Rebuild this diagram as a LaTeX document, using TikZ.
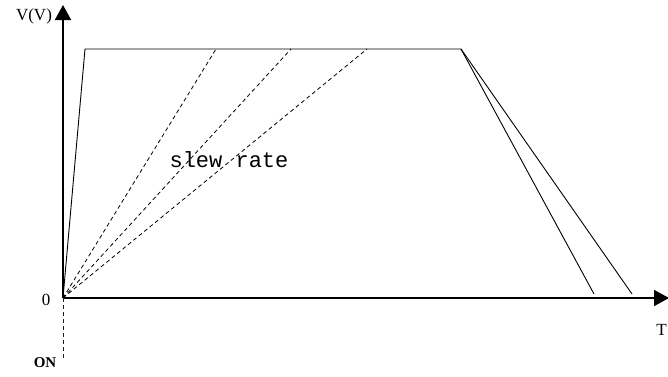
\documentclass[tikz,border=0pt]{standalone}
\usepackage{fontspec}
\setmainfont{Liberation Serif}
\newfontfamily\slewfont{Liberation Mono}
\usetikzlibrary{arrows.meta}
\begin{document}
\begin{tikzpicture}[x=1pt,y=-1pt,
  axis/.style={line width=1.8pt,-{Triangle[length=15pt,width=16pt]}},
  curve/.style={line width=0.9pt},
  slew/.style={line width=0.8pt,dash pattern=on 4pt off 3pt},
  ondash/.style={line width=0.8pt,blue,dash pattern=on 4pt off 3pt},
  lbl/.style={inner sep=0pt,font=\fontsize{17}{17}\selectfont}]
\useasboundingbox (0,0) rectangle (668,376);
\coordinate (O) at (63,298);
\coordinate (ytip) at (63,5);
\coordinate (xtip) at (669,298);
\coordinate (rise) at (85,49);
\coordinate (fall) at (461,49);
\coordinate (d1) at (216,49);
\coordinate (d2) at (291,49);
\coordinate (d3) at (367,49);
\coordinate (e1) at (594,294);
\coordinate (e2) at (632,294);
\coordinate (onend) at (63,358);
% axes
\draw[axis] (O) -- (ytip);
\draw[axis] (O) -- (xtip);
% trapezoid
\draw[curve] (O) -- (rise) -- (fall) -- (e2);
\draw[curve] (fall) -- (e1);
% slew lines
\draw[slew] (O) -- (d1);
\draw[slew] (O) -- (d2);
\draw[slew] (O) -- (d3);
% ON marker
\draw[ondash] (O) -- (onend);
% labels
\node[lbl] (vlab) at (34,16) {V(V)};
\node[lbl] (zero) at (46,300) {0};
\node[lbl,anchor=east] (tlab) at (667,330) {T};
\node[inner sep=0pt,font=\bfseries\fontsize{15}{15}\selectfont] (on) at (45,363) {ON};
\node[inner sep=0pt,font=\slewfont\fontsize{22}{22}\selectfont] (slewlab) at (229,160) {slew rate};
\end{tikzpicture}
\end{document}
